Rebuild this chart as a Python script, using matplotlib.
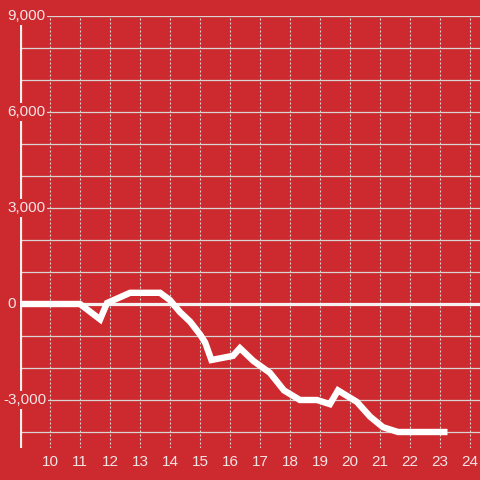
import matplotlib
matplotlib.use("Agg")
import matplotlib.pyplot as plt
from matplotlib.ticker import MultipleLocator

# ---- data ----
hours = [9.0, 11.0, 11.67, 11.9, 12.67, 13.67, 14.0, 14.33, 14.67, 15.0, 15.17,
         15.38, 16.1, 16.33, 16.78, 17.33, 17.8, 18.33, 18.9, 19.33, 19.6,
         20.23, 20.67, 21.1, 21.6, 23.25]
values = [0, 0, -480, 30, 350, 350, 120, -250, -550, -950, -1200,
          -1750, -1620, -1380, -1780, -2150, -2700, -3000, -3000, -3130, -2700,
          -3060, -3520, -3850, -4000, -4000]
x_ticks = list(range(10, 25))
y_label_values = [9000, 6000, 3000, 0, -3000]
y_label_texts = ["9,000", "6,000", "3,000", "0", "-3,000"]

BG = "#cd2a2f"
TXT = "#f3e4e4"
GRID = "#d9d3d3"

plt.rcParams["font.family"] = ["Liberation Sans", "DejaVu Sans"]

fig = plt.figure(figsize=(4.8, 4.8), dpi=100, facecolor=BG)
W, H = 480, 480
left_px, right_px, top_px, bot_px = 20, 480, 16, 448
ax = fig.add_axes([left_px / W, (H - bot_px) / H, (right_px - left_px) / W, (bot_px - top_px) / H])
ax.set_facecolor(BG)
ax.set_xlim(9.0, 9.0 + (right_px - left_px) / 30.0)
ax.set_ylim(-4500, 9000)

for s in ax.spines.values():
    s.set_visible(False)

# grid
ax.yaxis.set_major_locator(MultipleLocator(1000))
ax.set_yticklabels([])
ax.tick_params(axis="y", length=0)
ax.grid(axis="y", color=GRID, linewidth=0.9, zorder=1)
ax.set_xticks(x_ticks)
ax.tick_params(axis="x", length=0, pad=5, labelsize=11, labelcolor=TXT)
ax.grid(axis="x", color=GRID, linewidth=0.8, linestyle=(0, (1.8, 1.8)), zorder=1)
ax.set_axisbelow(True)

# zero line and y axis line
ax.axhline(0, color="#f7f0f0", linewidth=2.3, zorder=2)
ax.axvline(9.0, color="#f7f0f0", linewidth=2.3, zorder=2)

# data line
ax.plot(hours, values, color="white", linewidth=4.6, solid_joinstyle="miter",
        solid_capstyle="butt", zorder=4, clip_on=False)

# y labels (left-aligned, with background boxes)
for v, t in zip(y_label_values, y_label_texts):
    xpx = 3 if t.startswith("-") else 7
    ax.text((xpx - left_px) / (right_px - left_px), v, t,
            transform=ax.get_yaxis_transform(), ha="left", va="center",
            fontsize=11, color=TXT, zorder=5, clip_on=False,
            bbox=dict(boxstyle="square,pad=0.15", fc=BG, ec="none"))

fig.savefig("out.png", dpi=100, facecolor=BG)
